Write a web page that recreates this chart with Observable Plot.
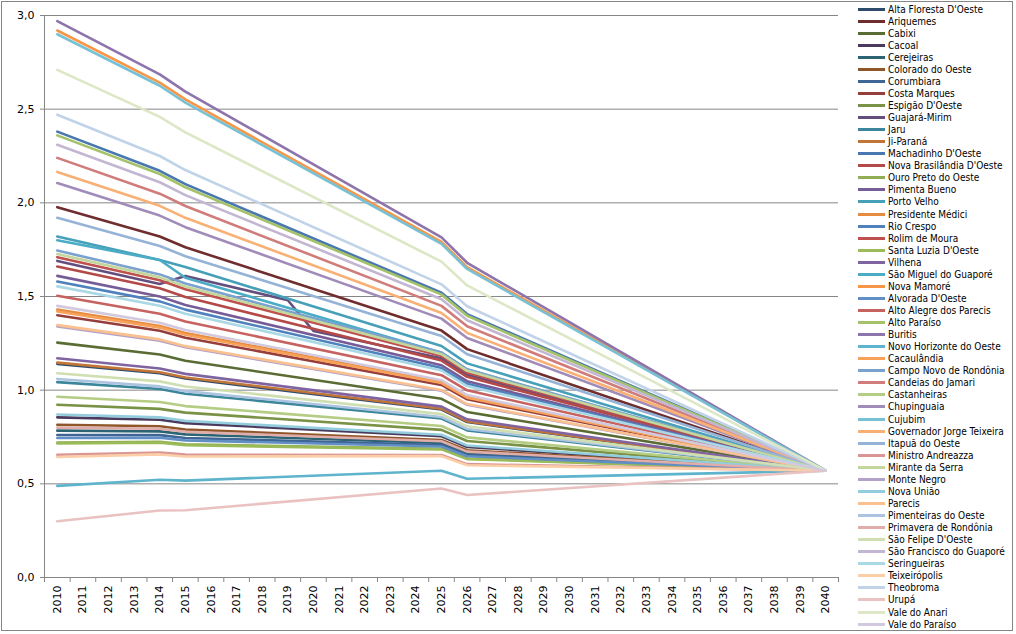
<!DOCTYPE html>
<html><head><meta charset="utf-8">
<script src="https://cdn.jsdelivr.net/npm/d3@7"></script>
<script src="https://cdn.jsdelivr.net/npm/@observablehq/plot@0.6"></script>
<style>
body{margin:0;background:#fff;font-family:"DejaVu Sans Condensed","Liberation Sans",sans-serif;}
#frame{position:absolute;left:1px;top:1px;width:1012px;height:630px;border:1px solid #868686;box-sizing:border-box;}
#chart{position:absolute;left:0;top:0;}
#legend{position:absolute;left:0;top:0;font-size:10px;color:#000;}
.item{position:absolute;left:858px;height:12px;display:flex;align-items:center;white-space:nowrap;}
.sw{width:27px;height:3px;margin-right:3px;}
</style></head><body>
<div id="frame"></div><div id="chart"></div><div id="legend"></div>
<script>
const names = ["Alta Floresta D'Oeste","Ariquemes","Cabixi","Cacoal","Cerejeiras","Colorado do Oeste","Corumbiara","Costa Marques","Espigão D'Oeste","Guajará-Mirim","Jaru","Ji-Paraná","Machadinho D'Oeste","Nova Brasilândia D'Oeste","Ouro Preto do Oeste","Pimenta Bueno","Porto Velho","Presidente Médici","Rio Crespo","Rolim de Moura","Santa Luzia D'Oeste","Vilhena","São Miguel do Guaporé","Nova Mamoré","Alvorada D'Oeste","Alto Alegre dos Parecis","Alto Paraíso","Buritis","Novo Horizonte do Oeste","Cacaulândia","Campo Novo de Rondônia","Candeias do Jamari","Castanheiras","Chupinguaia","Cujubim","Governador Jorge Teixeira","Itapuã do Oeste","Ministro Andreazza","Mirante da Serra","Monte Negro","Nova União","Parecis","Pimenteiras do Oeste","Primavera de Rondônia","São Felipe D'Oeste","São Francisco do Guaporé","Seringueiras","Teixeirópolis","Theobroma","Urupá","Vale do Anari","Vale do Paraíso"];

const years = [2010,2011,2012,2013,2014,2015,2016,2017,2018,2019,2020,2021,2022,2023,2024,2025,2026,2027,2028,2029,2030,2031,2032,2033,2034,2035,2036,2037,2038,2039,2040];
const yTicks = [0,0.5,1,1.5,2,2.5,3];

const v2010 = [1.14,1.977,1.254,0.855,0.784,0.815,0.761,1.40,0.922,1.69,1.043,1.147,2.38,1.66,0.721,1.61,1.82,1.43,1.58,1.71,0.715,1.17,1.80,2.92,0.745,1.504,2.36,2.97,0.489,1.42,1.745,2.24,0.965,2.106,2.90,2.165,1.92,0.655,1.727,1.34,0.87,1.347,1.06,0.80,1.09,2.31,1.554,0.643,2.47,0.30,2.71,1.45];
const v2014 = [1.090,1.820,1.190,0.842,0.780,0.807,0.760,1.317,0.900,1.567,1.006,1.096,2.171,1.544,0.725,1.500,1.695,1.343,1.474,1.587,0.720,1.116,1.695,2.642,0.746,1.408,2.154,2.686,0.522,1.334,1.618,2.049,0.937,1.932,2.625,1.984,1.770,0.667,1.602,1.264,0.855,1.271,1.020,0.794,1.047,2.110,1.451,0.657,2.250,0.358,2.459,1.360];
const v2015 = [1.062,1.763,1.157,0.824,0.764,0.790,0.745,1.280,0.880,1.610,0.981,1.068,2.100,1.497,0.711,1.455,1.657,1.305,1.430,1.539,0.706,1.087,1.600,2.552,0.732,1.367,2.083,2.594,0.517,1.296,1.569,1.983,0.915,1.870,2.535,1.920,1.715,0.656,1.553,1.229,0.836,1.235,0.995,0.778,1.020,2.041,1.408,0.646,2.175,0.359,2.376,1.321];
const v2025 = [0.897,1.318,0.954,0.754,0.718,0.734,0.707,1.028,0.788,1.170,0.849,0.901,1.520,1.158,0.687,1.133,1.236,1.043,1.118,1.183,0.684,0.912,1.200,1.791,0.699,1.080,1.510,1.816,0.570,1.038,1.201,1.450,0.809,1.382,1.781,1.412,1.289,0.654,1.192,0.997,0.762,1.001,0.857,0.727,0.872,1.485,1.105,0.648,1.565,0.475,1.686,1.053];
const v2026 = [0.830,1.219,0.883,0.697,0.664,0.679,0.654,0.951,0.729,1.082,0.785,0.833,1.406,1.071,0.635,1.048,1.143,0.965,1.034,1.094,0.632,0.844,1.110,1.657,0.647,0.999,1.397,1.680,0.527,0.960,1.111,1.341,0.748,1.278,1.647,1.306,1.192,0.605,1.103,0.922,0.705,0.926,0.793,0.672,0.807,1.373,1.022,0.599,1.448,0.440,1.559,0.974];
const v2040 = 0.57;
const extraPoints = [
  {name:"Guajará-Mirim", year:2019, value:1.48},
  {name:"Guajará-Mirim", year:2020, value:1.316}
];

// styling: Excel-like accent colours with shade/tint per cycle
const accents = [[79,129,189],[192,80,77],[155,187,89],[128,100,162],[75,172,198],[247,150,70]];
const cycleShade = [-0.42,-0.22,-0.07,0,0.1,0.25,0.4,0.53,0.65];
const colors = names.map((n,i) => {
  const c = accents[i%6], f = cycleShade[Math.floor(i/6)];
  const v = c.map(x => Math.round(f<0 ? x*(1+f) : x+(255-x)*f));
  return d3.rgb(v[0],v[1],v[2]).formatHex();
});

const rows = [];
names.forEach((name,i) => {
  const pts = [[2010,v2010[i]],[2014,v2014[i]],[2015,v2015[i]],[2025,v2025[i]],[2026,v2026[i]],[2040,v2040]];
  extraPoints.filter(e => e.name===name).forEach(e => pts.push([e.year,e.value]));
  pts.sort((a,b)=>a[0]-b[0]);
  pts.forEach(([year,value]) => rows.push({name,year,value}));
});

const bounds = [years[0]-0.5, ...years.map(y=>y+0.5)];
const fmt = d => d.toFixed(1).replace(".", ",");

const chart = Plot.plot({
  width: 838, height: 634,
  marginLeft: 44, marginRight: 0, marginTop: 15, marginBottom: 57,
  style: {fontFamily: '"DejaVu Sans","Liberation Sans",sans-serif', fontSize: "11px", background: "transparent", overflow: "visible"},
  x: {type: "linear", domain: [years[0]-0.5, years[years.length-1]+0.5]},
  y: {domain: [0,3]},
  color: {domain: names, range: colors},
  marks: [
    Plot.ruleY(yTicks, {stroke: "#868686", strokeWidth: 1}),
    Plot.ruleX([years[0]-0.5], {stroke: "#868686"}),
    Plot.axisY({ticks: yTicks, tickSize: 4, tickPadding: 6, tickFormat: fmt, stroke: "#868686", fill: "#000", label: null}),
    Plot.axisX({ticks: bounds, tickSize: 5, tickFormat: () => "", stroke: "#868686", label: null}),
    Plot.axisX({ticks: years, tickSize: 0, tickPadding: 8, tickRotate: -90, tickFormat: d => String(d), fill: "#000", label: null}),
    Plot.line(rows, {x: "year", y: "value", z: "name", stroke: "name", strokeWidth: 2.6, strokeLinejoin: "round"})
  ]
});
document.getElementById("chart").appendChild(chart);

const legend = document.getElementById("legend");
names.forEach((n,i) => {
  const it = document.createElement("div");
  it.className = "item";
  it.style.top = (9 + i*12.06 - 6) + "px";
  const sw = document.createElement("span");
  sw.className = "sw"; sw.style.background = colors[i];
  const tx = document.createElement("span");
  tx.textContent = n;
  it.appendChild(sw); it.appendChild(tx);
  legend.appendChild(it);
});
</script>
</body></html>
